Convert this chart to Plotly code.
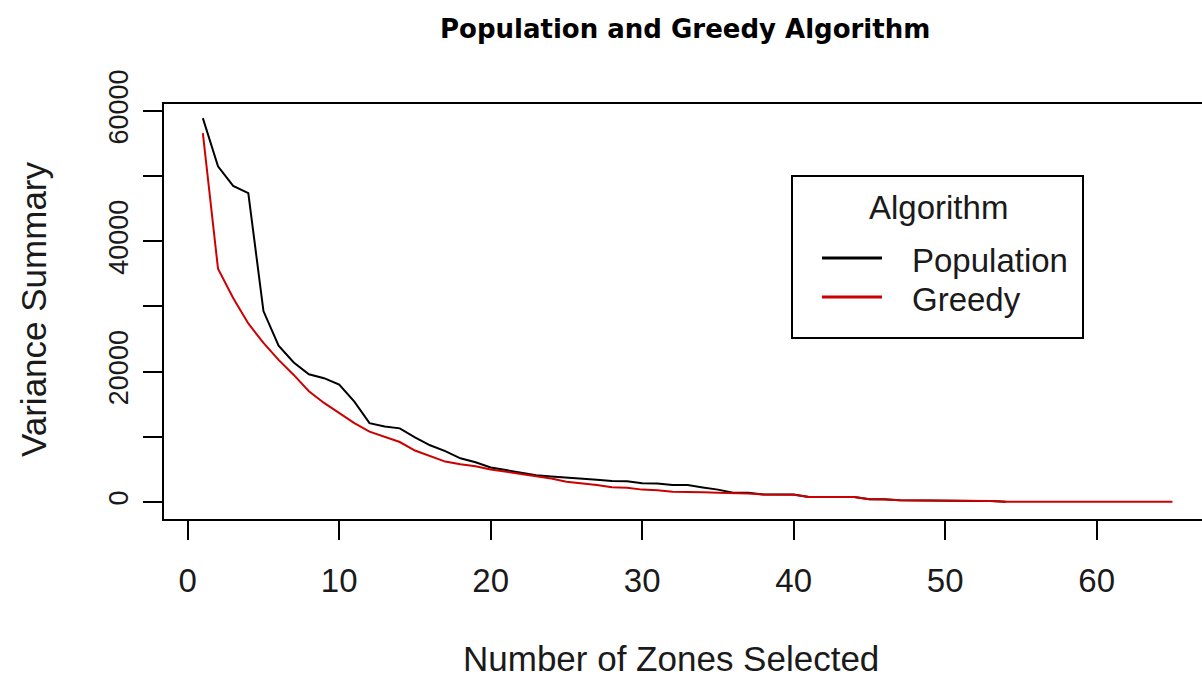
import plotly.graph_objects as go

# ---- data ----
zones_population = list(range(1, 55))
variance_population = [
    58900, 51500, 48500, 47400, 29300, 24000, 21400, 19600, 19000, 18000,
    15400, 12100, 11600, 11300, 9900, 8700, 7800, 6700, 6100, 5300,
    4900, 4500, 4100, 3900, 3700, 3550, 3400, 3220, 3200, 2870,
    2850, 2610, 2600, 2240, 1900, 1420, 1400, 1150, 1150, 1140,
    780, 780, 770, 760, 420, 410, 260, 260, 250, 240,
    150, 150, 140, 50,
]

zones_greedy = list(range(1, 66))
variance_greedy = [
    56600, 35800, 31300, 27400, 24400, 21800, 19500, 17000, 15200, 13600,
    12100, 10800, 10000, 9200, 7900, 7000, 6200, 5800, 5500, 5000,
    4700, 4300, 3950, 3600, 3100, 2900, 2600, 2250, 2200, 1900,
    1800, 1560, 1550, 1500, 1400, 1380, 1300, 1150, 1140, 1100,
    780, 770, 760, 750, 420, 400, 260, 250, 250, 240,
    150, 150, 140, 50, 45, 45, 40, 40, 35, 35,
    30, 30, 25, 25, 20,
]

x_ticks = [0, 10, 20, 30, 40, 50, 60]
y_ticks = [0, 10000, 20000, 30000, 40000, 50000, 60000]
y_tick_text = ["0", "", "20000", "", "40000", "", "60000"]

series_names = ["Population", "Greedy"]
series_colors = ["#000000", "#cc0000"]

# ---- layout geometry (pixels) ----
W, H = 1202, 680
L, R, T, B = 164, 0, 104, 161
PW, PH = W - L - R, H - T - B

def px(xp):
    return (xp - L) / PW

def py(yp):
    return (H - B - yp) / PH

TEXT = "#1a1a1a"
FONT = "Liberation Sans, Arial, sans-serif"

fig = go.Figure()
fig.add_trace(go.Scatter(x=zones_population, y=variance_population, mode="lines",
                         line=dict(color=series_colors[0], width=2),
                         name=series_names[0], showlegend=False))
fig.add_trace(go.Scatter(x=zones_greedy, y=variance_greedy, mode="lines",
                         line=dict(color=series_colors[1], width=2),
                         name=series_names[1], showlegend=False))

shapes = []
annotations = []

# legend box (manual, R style)
shapes.append(dict(type="rect", xref="paper", yref="paper",
                   x0=px(792), x1=px(1083), y0=py(338), y1=py(176),
                   line=dict(color="black", width=2), fillcolor="white", layer="above"))
annotations.append(dict(text="Algorithm", xref="paper", yref="paper",
                        x=px(938), y=py(207), xanchor="center", yanchor="middle",
                        showarrow=False, font=dict(family=FONT, size=33, color=TEXT)))
for i, (nm, col) in enumerate(zip(series_names, series_colors)):
    yy = [258, 297][i]
    shapes.append(dict(type="line", xref="paper", yref="paper",
                       x0=px(822), x1=px(882), y0=py(yy), y1=py(yy),
                       line=dict(color=col, width=3), layer="above"))
    annotations.append(dict(text=nm, xref="paper", yref="paper",
                            x=px(910), y=py(yy + 2), xanchor="left", yanchor="middle",
                            showarrow=False, font=dict(family=FONT, size=33, color=TEXT)))

# titles
annotations.append(dict(text="<b>Population and Greedy Algorithm</b>", xref="paper", yref="paper",
                        x=px(685), y=py(29), xanchor="center", yanchor="middle",
                        showarrow=False, font=dict(family="DejaVu Sans, sans-serif", size=26, color="#000000")))
annotations.append(dict(text="Number of Zones Selected", xref="paper", yref="paper",
                        x=px(671), y=py(658), xanchor="center", yanchor="middle",
                        showarrow=False, font=dict(family=FONT, size=35, color=TEXT)))
annotations.append(dict(text="Variance Summary", xref="paper", yref="paper",
                        x=px(33), y=py(309), xanchor="center", yanchor="middle", textangle=-90,
                        showarrow=False, font=dict(family=FONT, size=35, color=TEXT)))

fig.update_layout(
    width=W, height=H,
    margin=dict(l=L, r=R, t=T, b=B, pad=0),
    paper_bgcolor="white", plot_bgcolor="white",
    shapes=shapes, annotations=annotations,
    showlegend=False,
)
fig.update_xaxes(range=[-1.564, 66.95], tickvals=x_ticks, ticktext=[str(v) for v in x_ticks],
                 showgrid=False, zeroline=False, showline=True, linecolor="black", linewidth=2,
                 mirror=True, ticks="outside", ticklen=19, tickwidth=2, tickcolor="black",
                 tickfont=dict(family=FONT, size=33, color=TEXT), ticklabelstandoff=12)
fig.update_yaxes(range=[-2609, 61071], tickvals=y_ticks, ticktext=y_tick_text,
                 showgrid=False, zeroline=False, showline=True, linecolor="black", linewidth=2,
                 ticks="outside", ticklen=19, tickwidth=2, tickcolor="black", tickangle=-90,
                 tickfont=dict(family=FONT, size=27, color=TEXT), ticklabelstandoff=4)

fig.write_html("out.html", config={"displayModeBar": False},
               post_script="document.body.style.margin='0';document.body.style.overflow='hidden';")
